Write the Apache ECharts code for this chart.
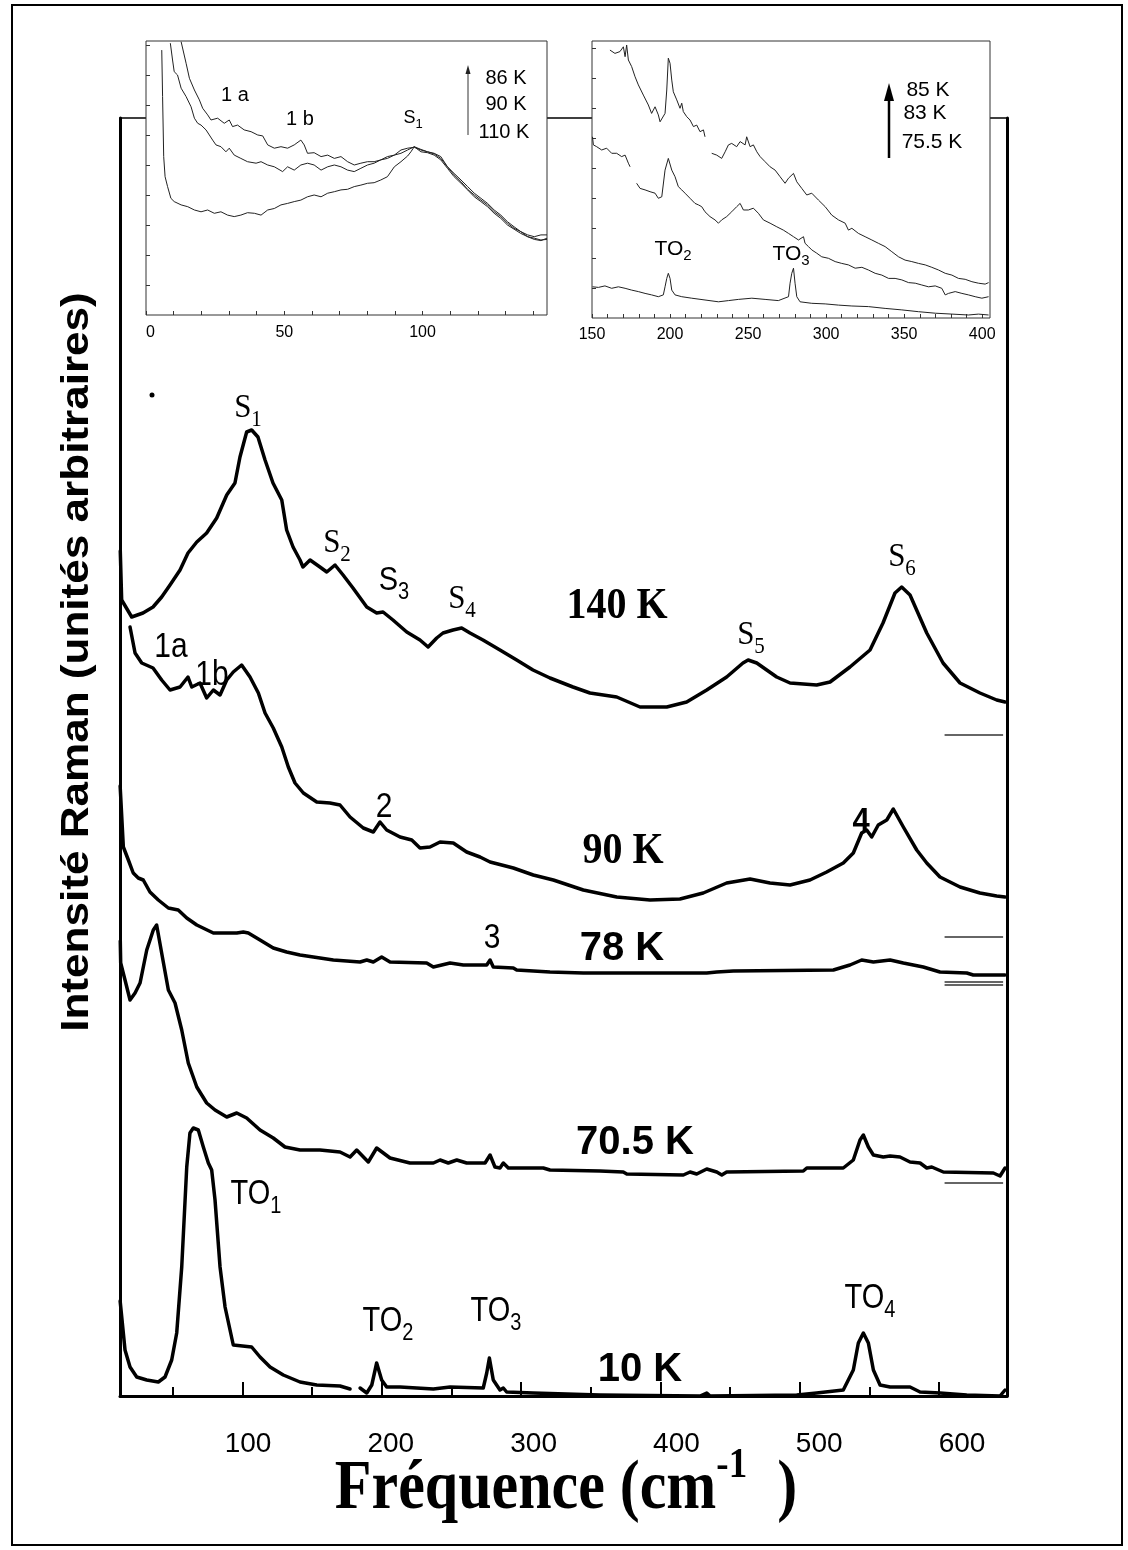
<!DOCTYPE html>
<html><head><meta charset="utf-8">
<script src="https://cdn.jsdelivr.net/npm/echarts@6/dist/echarts.min.js"></script>
<style>html,body{margin:0;padding:0;background:#fff}#c{width:1128px;height:1550px}</style>
</head><body><div id="c"></div>
<script>
// ---------------- DATA (frequency cm-1, intensity a.u.) ----------------
const spec140K = [[12.4,84.5],[13.4,79.6],[20.6,77.9],[28.7,78.3],[35.9,78.9],[42.1,79.9],[48.1,81.1],[55.3,82.6],[61.0,84.3],[67.3,85.4],[74.4,86.3],[81.6,87.8],[88.8,90.1],[94.7,91.3],[98.3,93.9],[103.1,96.4],[106.7,96.6],[111.2,95.9],[116.3,93.6],[122.0,91.3],[128.3,89.6],[131.8,86.6],[136.4,84.9],[141.4,83.6],[143.5,82.9],[148.6,83.6],[155.7,82.9],[160.6,82.4],[166.5,83.1],[172.3,82.1],[179.4,80.8],[189.3,78.9],[196.4,78.3],[201.0,78.4],[208.1,77.6],[218.0,76.4],[227.5,75.6],[233.3,74.9],[239.5,75.8],[244.0,76.3],[251.2,76.6],[257.4,76.8],[263.4,76.3],[272.7,75.6],[284.9,74.6],[296.9,73.6],[308.6,72.6],[320.8,71.8],[337.3,70.9],[349.5,70.3],[368.7,69.9],[385.4,68.9],[404.6,68.9],[418.9,69.4],[433.3,70.6],[447.6,71.9],[459.3,73.3],[463.0,73.6],[469.2,73.3],[483.5,71.9],[493.1,71.3],[512.2,71.1],[521.8,71.4],[536.1,72.9],[550.5,74.6],[559.8,77.3],[568.4,80.3],[573.2,80.9],[579.2,80.1],[591.2,76.3],[602.9,73.3],[615.1,71.3],[629.4,70.3],[641.4,69.6],[647.4,69.4]];
const spec90K = [[19.4,76.9],[23.0,74.3],[27.8,73.3],[35.9,72.8],[42.1,71.6],[48.1,70.6],[55.3,70.9],[61.0,71.9],[63.7,70.9],[69.6,71.3],[74.4,69.8],[79.2,70.6],[84.0,70.1],[88.8,71.6],[93.5,72.4],[99.5,73.1],[105.5,71.9],[111.5,70.3],[116.3,68.3],[122.2,66.8],[128.3,64.9],[133.0,62.9],[137.8,61.3],[143.8,60.3],[153.4,59.4],[162.9,59.3],[170.1,59.1],[177.3,57.9],[186.8,56.8],[194.0,56.4],[198.8,57.4],[203.6,56.6],[213.2,55.9],[221.6,55.6],[227.5,54.8],[234.7,54.9],[241.9,55.4],[251.4,55.3],[261.0,54.4],[270.6,53.9],[277.8,53.4],[294.5,52.8],[308.8,52.1],[323.2,51.6],[344.7,50.6],[368.7,49.9],[392.6,49.6],[414.1,49.7],[430.8,50.3],[447.6,51.3],[464.4,51.7],[478.7,51.3],[493.1,51.1],[507.4,51.6],[519.4,52.4],[531.3,53.3],[538.5,54.3],[544.5,56.3],[548.1,56.6],[551.7,55.9],[556.4,57.1],[562.5,57.6],[567.2,58.7],[574.4,56.9],[584.0,54.6],[591.2,53.3],[600.7,51.9],[615.1,50.9],[629.4,50.3],[641.4,50.0],[647.4,49.9]];
const spec78K = [[12.3,61.0],[14.6,54.9],[18.2,53.6],[21.7,52.3],[25.3,51.8],[28.9,51.6],[33.7,50.4],[39.7,49.6],[46.9,48.8],[54.0,48.6],[60.1,47.8],[67.3,47.1],[79.2,46.3],[96.0,46.3],[100.7,46.4],[104.3,46.3],[112.7,45.6],[122.2,44.8],[131.8,44.4],[141.4,44.1],[165.3,43.6],[184.5,43.4],[189.3,43.6],[194.0,43.4],[200.0,43.9],[206.0,43.4],[232.3,43.3],[237.1,42.9],[249.1,43.3],[258.6,43.1],[275.4,43.1],[277.8,43.6],[280.1,42.9],[294.5,42.8],[296.9,42.6],[320.8,42.4],[344.7,42.3],[392.6,42.3],[433.3,42.3],[440.5,42.4],[452.4,42.5],[524.2,42.6],[536.1,43.1],[544.5,43.6],[552.9,43.4],[564.9,43.6],[574.4,43.3],[588.7,42.9],[600.7,42.4],[619.9,42.3],[624.6,42.1],[647.4,42.1]];
const spec70_5K = [[12.4,45.5],[12.7,43.3],[15.8,41.6],[19.4,39.6],[23.0,40.3],[26.6,41.3],[31.4,44.6],[36.1,46.6],[38.5,47.1],[42.1,44.3],[46.9,40.6],[51.7,39.3],[56.5,36.6],[61.2,33.3],[67.3,30.9],[74.4,29.3],[80.4,28.6],[88.8,27.9],[96.0,28.3],[103.1,27.8],[112.7,26.6],[122.2,25.8],[130.6,24.9],[141.4,24.6],[155.7,24.6],[170.1,24.4],[177.3,23.9],[182.1,24.6],[190.4,23.4],[196.4,24.8],[206.0,23.8],[220.3,23.3],[237.1,23.3],[241.9,23.6],[247.8,23.3],[253.9,23.6],[261.0,23.3],[274.2,23.3],[277.8,24.1],[281.3,22.9],[284.9,22.8],[287.3,23.3],[290.9,22.8],[316.0,22.8],[320.8,22.6],[356.7,22.5],[373.4,22.4],[375.9,22.2],[416.5,22.1],[421.3,22.4],[426.1,22.2],[433.3,22.7],[440.5,22.4],[444.1,22.1],[447.6,22.4],[502.6,22.5],[505.1,22.8],[531.3,22.8],[538.5,23.6],[543.3,25.6],[545.7,26.1],[549.3,24.9],[552.9,24.1],[560.0,23.9],[564.9,24.0],[572.0,23.9],[579.2,23.4],[586.4,23.3],[591.2,22.8],[594.8,22.9],[603.1,22.4],[639.0,22.3],[643.8,22.0],[647.4,22.8]];
const spec10K = [[12.3,9.5],[15.8,4.6],[19.4,2.9],[24.2,1.9],[31.4,1.6],[39.7,1.4],[44.5,1.9],[49.3,3.6],[52.9,6.3],[56.5,12.9],[60.1,22.9],[62.4,26.3],[64.8,26.8],[68.4,26.6],[72.0,24.9],[75.6,23.3],[78.0,22.6],[80.4,19.6],[84.0,12.9],[87.6,8.9],[93.5,5.1],[106.7,4.9],[112.7,3.9],[119.9,2.9],[129.4,2.1],[141.4,1.4],[153.4,1.1],[170.1,1.0],[177.3,0.7],[180.5,'-'],[184.5,0.8],[189.3,0.3],[192.9,1.1],[196.4,3.3],[200.0,1.6],[203.6,0.9],[213.2,0.9],[237.1,0.7],[249.1,0.9],[272.9,0.8],[275.4,2.3],[277.3,3.8],[280.1,1.6],[284.9,0.6],[287.3,0.8],[289.7,0.4],[308.8,0.3],[356.7,0.1],[428.5,0.0],[433.3,0.3],[435.7,0.0],[497.9,0.1],[512.2,0.3],[531.3,0.6],[538.5,2.6],[542.1,5.3],[545.7,6.3],[549.3,5.3],[552.9,2.6],[557.7,1.1],[564.9,0.9],[579.2,0.9],[586.4,0.4],[600.7,0.3],[619.9,0.1],[643.8,0.0],[647.4,0.6]];
const baselineLevels = [66.1, 45.9, 41.4, 41.1, 21.3];
const baselineSpan = [604, 646];

// inset 1 (0-145 cm-1): 86 K, 90 K, 110 K
const insL_86K = [[12.7,91.1],[13.3,90.6],[14.5,83.9],[15.7,78.9],[17.5,75.0],[19.3,71.7],[20.5,68.9],[22.3,66.7],[23.5,65.0],[25.9,65.6],[28.3,63.9],[30.1,65.0],[31.3,62.8],[33.1,63.3],[35.5,61.7],[38.0,61.1],[40.4,60.0],[42.2,59.7],[44.0,56.7],[46.4,55.6],[48.8,56.1],[51.2,55.6],[53.6,56.7],[56.0,58.3],[57.2,56.7],[58.4,53.9],[60.8,54.1],[63.3,52.8],[65.7,53.3],[68.1,52.2],[70.5,52.8],[72.9,51.1],[75.3,50.0],[77.7,50.6],[80.1,51.1],[82.5,51.1],[84.9,51.7],[87.3,52.8],[89.8,53.3],[92.2,55.0],[94.6,55.6],[97.0,55.9],[99.4,55.0],[101.8,54.4],[104.2,53.9],[106.6,52.8],[109.0,49.4],[111.4,47.2],[113.9,45.0],[116.3,42.8],[118.7,40.6],[121.1,38.9],[123.5,37.2],[125.9,35.0],[128.3,33.3],[130.7,31.1],[133.1,29.4],[135.5,27.8],[138.0,26.7],[140.4,26.1],[142.8,26.7],[145.0,26.7]];
const insL_90K = [[8.8,90.6],[9.6,85.0],[10.2,81.1],[11.4,80.0],[12.7,75.6],[14.5,72.8],[16.3,69.4],[17.5,65.6],[18.7,63.9],[19.9,63.3],[21.7,61.7],[22.9,60.0],[24.1,58.3],[25.3,56.7],[27.1,56.1],[28.9,54.4],[30.1,55.6],[31.9,53.3],[34.3,52.2],[36.7,51.1],[39.8,50.6],[41.6,51.1],[44.0,50.0],[46.4,49.4],[49.4,47.8],[51.2,49.4],[53.6,48.3],[56.0,50.0],[58.4,50.6],[60.8,50.0],[63.3,48.3],[65.7,49.4],[68.1,50.0],[70.5,49.4],[72.9,48.3],[75.3,47.8],[77.7,48.9],[80.1,50.0],[82.5,50.6],[84.9,51.7],[87.3,52.2],[89.8,53.3],[92.2,53.9],[94.6,55.0],[97.0,56.1],[99.4,55.2],[101.8,54.4],[104.2,53.7],[106.6,52.2],[109.0,49.4],[111.4,46.7],[113.9,44.4],[116.3,41.9],[118.7,40.0],[121.1,38.3],[123.5,36.7],[125.9,34.4],[128.3,32.8],[130.7,30.6],[133.1,28.9],[135.5,27.8],[138.0,26.1],[140.4,25.6],[142.8,25.0],[145.0,25.2]];
const insL_110K = [[5.7,88.3],[6.0,72.8],[6.4,52.8],[6.9,46.1],[7.8,42.8],[9.0,38.9],[10.2,37.8],[12.7,36.7],[15.1,36.1],[17.5,35.0],[19.9,34.4],[22.3,35.0],[24.7,33.9],[27.1,34.4],[29.5,33.3],[31.9,32.8],[34.3,33.3],[36.7,34.1],[39.2,33.9],[41.6,33.3],[44.0,35.0],[46.4,35.5],[48.8,36.7],[51.2,37.2],[53.6,37.8],[56.0,38.3],[58.4,39.4],[60.8,40.0],[63.3,39.4],[65.7,40.6],[68.1,41.1],[70.5,41.7],[72.9,41.9],[75.3,42.8],[77.7,43.3],[80.1,43.9],[82.5,44.1],[84.9,45.0],[87.3,46.1],[89.8,49.4],[92.2,51.1],[94.6,53.0],[95.8,54.4],[97.0,56.1],[99.4,54.4],[101.8,54.1],[104.2,53.3],[106.6,51.7],[109.0,48.9],[111.4,46.1],[113.9,43.9],[116.3,41.7],[118.7,39.4],[121.1,37.8],[123.5,36.1],[125.9,33.9],[128.3,32.2],[130.7,30.0],[133.1,28.6],[135.5,27.2],[138.0,26.1],[140.4,25.2],[142.8,24.8],[145.0,25.6]];

// inset 2 (150-405 cm-1): 85 K, 83 K, 75.5 K
const insR_85K = [[161.5,89.3],[164.7,88.2],[167.9,88.8],[170.1,90.4],[171.2,87.1],[172.2,91.0],[173.3,86.0],[175.4,83.8],[177.6,80.4],[179.7,77.7],[182.9,74.3],[186.1,71.0],[188.2,68.2],[190.4,70.4],[192.5,67.7],[193.6,65.4],[194.7,66.0],[196.8,68.2],[197.9,76.0],[198.9,86.6],[200.0,84.9],[201.1,79.3],[202.1,75.4],[204.3,72.7],[206.4,69.9],[207.5,71.6],[208.5,68.8],[210.7,67.1],[212.8,66.0],[215.0,63.8],[217.1,64.3],[219.2,62.1],[221.4,62.7],[222.4,60.4],[224.5,'-'],[226.7,54.9],[229.9,54.3],[233.1,53.2],[235.3,55.4],[237.4,57.7],[239.5,58.2],[242.7,57.1],[244.9,58.8],[248.1,57.7],[249.1,60.4],[251.3,57.1],[253.4,57.7],[255.6,55.4],[257.7,53.8],[260.9,52.1],[264.1,50.4],[267.3,49.3],[270.5,47.1],[273.7,44.9],[275.9,46.6],[279.1,48.2],[281.2,45.4],[284.4,43.2],[287.6,41.0],[290.8,41.6],[295.1,39.3],[299.4,37.1],[303.6,34.3],[307.9,32.7],[312.2,31.6],[314.3,29.3],[316.5,29.9],[320.7,28.2],[325.0,27.1],[329.3,26.0],[333.5,24.9],[337.8,23.8],[342.1,22.1],[346.4,20.4],[350.6,19.3],[354.9,18.8],[359.2,18.2],[363.5,17.7],[367.7,16.9],[372.0,16.0],[376.3,14.9],[380.6,14.3],[384.8,13.2],[389.1,12.9],[393.4,12.1],[397.6,11.6],[401.9,11.3],[404.1,11.8]];
const insR_83K = [[150.3,60.4],[150.9,57.7],[153.0,57.1],[156.2,56.0],[159.4,56.6],[162.6,54.9],[165.8,54.9],[169.0,53.8],[171.2,54.3],[173.3,51.6],[174.4,50.4],[176.5,'-'],[178.6,44.9],[180.8,43.2],[184.0,42.7],[187.2,42.1],[190.4,41.6],[192.5,39.9],[194.7,40.4],[196.8,49.3],[198.9,53.2],[201.1,49.3],[203.2,47.1],[205.3,43.8],[207.5,42.7],[209.6,41.6],[212.8,39.9],[216.0,38.2],[218.2,37.7],[220.3,37.1],[222.4,35.4],[225.6,33.8],[228.8,32.7],[231.0,31.6],[233.1,32.7],[236.3,33.8],[239.5,35.4],[242.7,37.1],[244.9,38.2],[247.0,36.0],[250.2,36.0],[253.4,36.6],[256.6,34.9],[259.8,32.7],[264.1,31.6],[268.4,30.4],[272.6,29.3],[275.9,28.2],[279.1,27.1],[282.3,26.0],[285.5,27.1],[286.5,24.9],[288.7,23.8],[290.8,22.7],[294.0,21.6],[297.2,20.4],[301.5,19.9],[305.8,18.8],[310.0,18.2],[314.3,17.7],[318.6,16.6],[322.9,16.9],[327.1,16.0],[331.4,14.9],[335.7,14.3],[340.0,13.2],[344.2,13.2],[348.5,12.7],[352.8,11.8],[357.1,11.6],[361.3,11.0],[365.6,10.4],[369.9,10.7],[374.1,9.9],[376.3,7.7],[378.4,8.2],[382.7,8.8],[387.0,8.2],[391.2,7.7],[395.5,7.1],[399.8,6.6],[404.1,7.1]];
const insR_75_5K = [[150.3,10.4],[154.1,10.2],[158.3,10.7],[162.6,9.9],[166.9,10.4],[171.2,9.9],[175.4,9.3],[179.7,8.8],[184.0,8.2],[188.2,7.7],[192.5,7.1],[195.7,7.7],[196.8,10.4],[197.9,13.2],[198.9,14.9],[200.0,13.2],[201.1,9.3],[203.2,7.7],[207.5,7.1],[213.9,6.6],[222.4,6.0],[231.0,5.4],[237.4,5.8],[243.8,6.2],[252.4,6.6],[260.9,6.2],[269.4,5.8],[275.9,7.1],[276.9,11.6],[278.0,14.9],[279.1,16.6],[280.1,11.6],[281.2,7.1],[283.3,5.4],[290.8,4.9],[299.4,4.7],[307.9,4.3],[316.5,4.0],[327.1,3.8],[337.8,3.2],[348.5,2.7],[359.2,2.1],[369.9,1.6],[380.6,1.3],[391.2,1.0],[397.6,1.3],[404.1,1.0]];

// ticks
const mainMajorTicks = [100,200,300,400,500,600];
const mainMinorTicks = [50,150,250,350,450,550];
const mainTickLabels = [100,200,300,400,500,600];
const insLTicks = [0,10,20,30,40,50,60,70,80,90,100,110,120,130,140];
const insLLabels = [0,50,100];
const insRTicks = [150,160,170,180,190,200,210,220,230,240,250,260,270,280,290,300,310,320,330,340,350,360,370,380,390,400];
const insRLabels = [150,200,250,300,350,400];
const insYTicks = [10,20,30,40,50,60,70,80,90];

// ---------------- CHART ----------------
const SANS = 'Liberation Sans, Arial, sans-serif';
const SERIF = 'Liberation Serif, Times New Roman, serif';
const chart = echarts.init(document.getElementById('c'), null, {renderer:'canvas', width:1128, height:1550});

function mainLine(name, data){
  return {name, type:'line', xAxisIndex:0, yAxisIndex:0, data, symbol:'none', showSymbol:false,
    connectNulls:false, lineStyle:{color:'#000', width:3.5, join:'round', cap:'round'}, z:2, silent:true};
}
function insetLine(name, data, xi, yi){
  return {name, type:'line', xAxisIndex:xi, yAxisIndex:yi, data, symbol:'none', showSymbol:false,
    connectNulls:false, lineStyle:{color:'#222', width:1}, z:12, silent:true};
}
const baselineSeries = baselineLevels.map((lv,i)=>({
  name:'base'+i, type:'line', xAxisIndex:0, yAxisIndex:0, symbol:'none', silent:true, z:2,
  data: baselineSpan.map(x=>[x, lv]), lineStyle:{color:'#333', width:1.3}
}));

function txt(text, x, y, o){
  o = o || {};
  return {type:'text', x, y, z:o.z||30, scaleX:o.sx||1, scaleY:o.sy||1, rotation:o.rot||0,
    style:{text, fill:'#000', align:'center', verticalAlign:'middle',
      font:(o.bold?'bold ':'')+(o.size||30)+'px '+(o.fam||SANS)}};
}
function subTxt(main, sub, x, y, o){
  o = o || {};
  const size=o.size||30, ss=o.ss||Math.round(size*0.68), fam=o.fam||SANS;
  return {type:'text', x, y, z:o.z||30, scaleY:o.sy||1,
    style:{text:'{m|'+main+'}{s|'+sub+'}', align:'center', verticalAlign:'middle',
      rich:{m:{fontSize:size, fontFamily:fam, fontWeight:o.bold?'bold':'normal', fill:'#000'},
            s:{fontSize:ss, fontFamily:fam, fill:'#000', padding:[o.pad||Math.round(size*0.7),0,0,0]}}}};
}

const graphics = [
  {type:'rect', z:40, shape:{x:12, y:5, width:1110, height:1540}, style:{fill:'none', stroke:'#000', lineWidth:2}},
  {type:'circle', z:30, shape:{cx:152, cy:395, r:2.5}, style:{fill:'#000'}},
  // axis titles
  {type:'text', x:77, y:662, rotation:Math.PI/2, scaleX:1.13, z:30,
   style:{text:'Intensité Raman (unités arbitraires)', fill:'#000', align:'center', verticalAlign:'middle', font:'bold 39px '+SANS}},
  {type:'text', x:566, y:1490, scaleY:1.16, z:30,
   style:{text:'{m|Fréquence (cm}{p|-1}{m|  )}', align:'center', verticalAlign:'middle',
     rich:{m:{fontSize:60, fontFamily:SERIF, fontWeight:'bold', fill:'#000'},
           p:{fontSize:37, fontFamily:SERIF, fontWeight:'bold', fill:'#000', padding:[0,0,42,0]}}}},
  // main annotations
  subTxt('S','1',248,408,{fam:SERIF, size:31, sy:1.1}),
  subTxt('S','2',337,543,{fam:SERIF, size:31, sy:1.1}),
  subTxt('S','3',394,581,{size:29, sy:1.15}),
  subTxt('S','4',462,599,{fam:SERIF, size:31, sy:1.1}),
  subTxt('S','5',751,635,{fam:SERIF, size:31, sy:1.1}),
  subTxt('S','6',902,557,{fam:SERIF, size:31, sy:1.1}),
  txt('140 K',617,607,{bold:true, size:40, fam:SERIF, sy:1.1}),
  txt('90 K',623,852,{bold:true, size:40, fam:SERIF, sy:1.1}),
  txt('78 K',622,949,{bold:true, size:40}),
  txt('70.5 K',635,1143,{bold:true, size:40}),
  txt('10 K',640,1370,{bold:true, size:40}),
  txt('1a',171,647,{size:30, sy:1.15}),
  txt('1b',212,675,{size:30, sy:1.15}),
  txt('2',384,807,{size:30, sy:1.15}),
  txt('3',492,938,{size:30, sy:1.15}),
  txt('4',861,822,{size:31, bold:true, sy:1.1}),
  subTxt('TO','1',256,1194,{size:29, sy:1.2}),
  subTxt('TO','2',388,1321,{size:29, sy:1.2}),
  subTxt('TO','3',496,1311,{size:29, sy:1.2}),
  subTxt('TO','4',870,1298,{size:29, sy:1.2}),
  // inset 1 annotations
  txt('1 a',235,95,{size:20}),
  txt('1 b',300,119,{size:20}),
  subTxt('S','1',413,118,{size:18, ss:13, pad:12}),
  txt('86 K',506,78,{size:20}),
  txt('90 K',506,104,{size:20}),
  txt('110 K',504,132,{size:20}),
  {type:'line', z:30, shape:{x1:468, y1:135, x2:468, y2:72}, style:{stroke:'#333', lineWidth:1}},
  {type:'polygon', z:30, shape:{points:[[468,65],[465.5,74],[470.5,74]]}, style:{fill:'#222'}},
  // inset 2 annotations
  subTxt('TO','2',673,249,{size:21, ss:15, pad:14}),
  subTxt('TO','3',791,254,{size:21, ss:15, pad:14}),
  txt('85 K',928,90,{size:21}),
  txt('83 K',925,113,{size:21}),
  txt('75.5 K',932,142,{size:21}),
  {type:'line', z:30, shape:{x1:889, y1:158, x2:889, y2:98}, style:{stroke:'#000', lineWidth:2.5}},
  {type:'polygon', z:30, shape:{points:[[889,83],[884,101],[894,101]]}, style:{fill:'#000'}}
];

const noLine = {show:false};
const option = {
  animation:false,
  backgroundColor:'#fff',
  grid:[
    {left:120, top:118, width:887, height:1278, show:false},
    {left:146, top:41, width:401, height:274, show:true, backgroundColor:'#fff', borderColor:'#333', borderWidth:1, z:10},
    {left:592, top:41, width:398, height:277, show:true, backgroundColor:'#fff', borderColor:'#333', borderWidth:1, z:10}
  ],
  xAxis:[
    {gridIndex:0, type:'value', position:'bottom', min:12.2, max:648.8, splitLine:noLine, axisLabel:{show:false},
     axisLine:{show:true, onZero:false, lineStyle:{color:'#000', width:3}},
     axisTick:{show:true, inside:true, length:14, lineStyle:{color:'#000', width:2}, customValues:mainMajorTicks}},
    {gridIndex:0, type:'value', position:'bottom', min:12.2, max:648.8, splitLine:noLine, axisLabel:{show:false},
     axisLine:{show:false, onZero:false},
     axisTick:{show:true, inside:true, length:9, lineStyle:{color:'#000', width:2}, customValues:mainMinorTicks}},
    {gridIndex:0, type:'value', position:'bottom', min:10.36, max:631.5, splitLine:noLine, axisTick:{show:false},
     axisLine:{show:false, onZero:false},
     axisLabel:{show:true, customValues:mainTickLabels, margin:34, fontSize:28, color:'#000', fontFamily:SANS}},
    {gridIndex:0, type:'value', position:'top', min:12.2, max:648.8, splitLine:noLine, axisTick:{show:false}, axisLabel:{show:false},
     axisLine:{show:true, onZero:false, lineStyle:{color:'#000', width:1.5}}},
    {gridIndex:1, type:'value', position:'bottom', min:0, max:145, z:11, splitLine:noLine,
     axisLine:{show:false, onZero:false},
     axisTick:{show:true, inside:true, length:4, lineStyle:{color:'#333', width:1}, customValues:insLTicks},
     axisLabel:{show:true, customValues:insLLabels, margin:10, fontSize:16, color:'#000', fontFamily:SANS, alignMinLabel:'left'}},
    {gridIndex:2, type:'value', position:'bottom', min:150, max:405, z:11, splitLine:noLine,
     axisLine:{show:false, onZero:false},
     axisTick:{show:true, inside:true, length:4, lineStyle:{color:'#333', width:1}, customValues:insRTicks},
     axisLabel:{show:true, customValues:insRLabels, margin:9, fontSize:16, color:'#000', fontFamily:SANS}}
  ],
  yAxis:[
    {gridIndex:0, type:'value', position:'left', min:0, max:127.8, splitLine:noLine, axisTick:{show:false}, axisLabel:{show:false},
     axisLine:{show:true, onZero:false, lineStyle:{color:'#000', width:3}}},
    {gridIndex:0, type:'value', position:'right', min:0, max:127.8, splitLine:noLine, axisTick:{show:false}, axisLabel:{show:false},
     axisLine:{show:true, onZero:false, lineStyle:{color:'#000', width:3}}},
    {gridIndex:1, type:'value', position:'left', min:0, max:91.33, z:11, splitLine:noLine, axisLabel:{show:false},
     axisLine:{show:false, onZero:false},
     axisTick:{show:true, inside:true, length:4, lineStyle:{color:'#333', width:1}, customValues:insYTicks}},
    {gridIndex:2, type:'value', position:'left', min:0, max:92.33, z:11, splitLine:noLine, axisLabel:{show:false},
     axisLine:{show:false, onZero:false},
     axisTick:{show:true, inside:true, length:4, lineStyle:{color:'#333', width:1}, customValues:insYTicks}}
  ],
  series:[
    mainLine('140 K', spec140K),
    mainLine('90 K', spec90K),
    mainLine('78 K', spec78K),
    mainLine('70.5 K', spec70_5K),
    mainLine('10 K', spec10K),
    ...baselineSeries,
    insetLine('86 K', insL_86K, 4, 2),
    insetLine('90 K (inset)', insL_90K, 4, 2),
    insetLine('110 K', insL_110K, 4, 2),
    insetLine('85 K', insR_85K, 5, 3),
    insetLine('83 K', insR_83K, 5, 3),
    insetLine('75.5 K', insR_75_5K, 5, 3)
  ],
  graphic: graphics
};
chart.setOption(option);
</script></body></html>
